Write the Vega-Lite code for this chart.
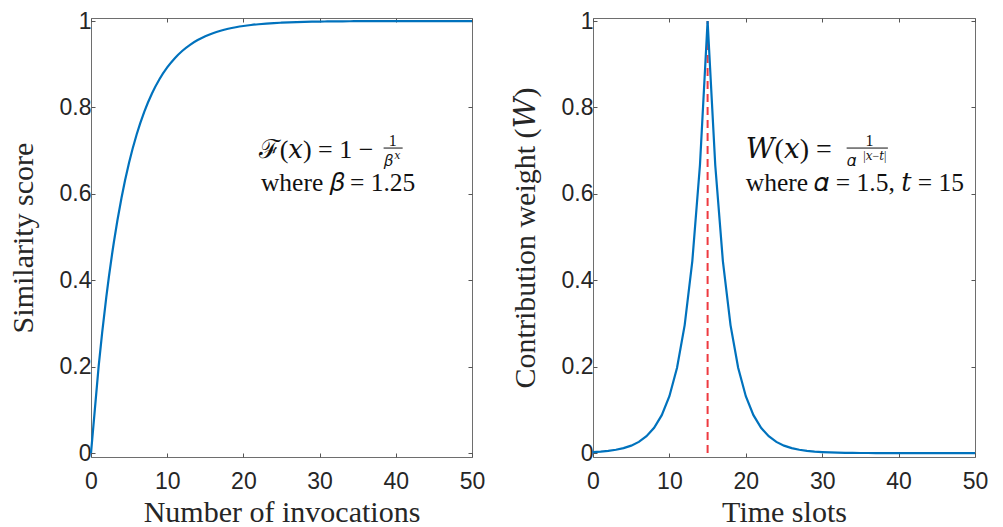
{
  "$schema": "https://vega.github.io/schema/vega-lite/v6.json",
  "background": "white",
  "padding": {"left": 7, "top": 9, "right": 5, "bottom": 0},
  "bounds": "flush",
  "spacing": 121,
  "datasets": {
    "sim": [
      {"x": 0, "y": 0}, {"x": 1, "y": 0.2}, {"x": 2, "y": 0.36}, {"x": 3, "y": 0.488}, {"x": 4, "y": 0.5904},
      {"x": 5, "y": 0.6723}, {"x": 6, "y": 0.7379}, {"x": 7, "y": 0.7903}, {"x": 8, "y": 0.8322}, {"x": 9, "y": 0.8658},
      {"x": 10, "y": 0.8926}, {"x": 11, "y": 0.9141}, {"x": 12, "y": 0.9313}, {"x": 13, "y": 0.945}, {"x": 14, "y": 0.956},
      {"x": 15, "y": 0.9648}, {"x": 16, "y": 0.9719}, {"x": 17, "y": 0.9775}, {"x": 18, "y": 0.982}, {"x": 19, "y": 0.9856},
      {"x": 20, "y": 0.9885}, {"x": 21, "y": 0.9908}, {"x": 22, "y": 0.9926}, {"x": 23, "y": 0.9941}, {"x": 24, "y": 0.9953},
      {"x": 25, "y": 0.9962}, {"x": 26, "y": 0.997}, {"x": 27, "y": 0.9976}, {"x": 28, "y": 0.9981}, {"x": 29, "y": 0.9985},
      {"x": 30, "y": 0.9988}, {"x": 31, "y": 0.999}, {"x": 32, "y": 0.9992}, {"x": 33, "y": 0.9994}, {"x": 34, "y": 0.9995},
      {"x": 35, "y": 0.9996}, {"x": 36, "y": 0.9997}, {"x": 37, "y": 0.9997}, {"x": 38, "y": 0.9998}, {"x": 39, "y": 0.9998},
      {"x": 40, "y": 0.9999}, {"x": 41, "y": 0.9999}, {"x": 42, "y": 0.9999}, {"x": 43, "y": 0.9999}, {"x": 44, "y": 0.9999},
      {"x": 45, "y": 1}, {"x": 46, "y": 1}, {"x": 47, "y": 1}, {"x": 48, "y": 1}, {"x": 49, "y": 1}, {"x": 50, "y": 1}
    ],
    "wt": [
      {"x": 0, "y": 0.0023}, {"x": 1, "y": 0.0034}, {"x": 2, "y": 0.0051}, {"x": 3, "y": 0.0077}, {"x": 4, "y": 0.0116},
      {"x": 5, "y": 0.0173}, {"x": 6, "y": 0.026}, {"x": 7, "y": 0.039}, {"x": 8, "y": 0.0585}, {"x": 9, "y": 0.0878},
      {"x": 10, "y": 0.1317}, {"x": 11, "y": 0.1975}, {"x": 12, "y": 0.2963}, {"x": 13, "y": 0.4444}, {"x": 14, "y": 0.6667},
      {"x": 15, "y": 1}, {"x": 16, "y": 0.6667}, {"x": 17, "y": 0.4444}, {"x": 18, "y": 0.2963}, {"x": 19, "y": 0.1975},
      {"x": 20, "y": 0.1317}, {"x": 21, "y": 0.0878}, {"x": 22, "y": 0.0585}, {"x": 23, "y": 0.039}, {"x": 24, "y": 0.026},
      {"x": 25, "y": 0.0173}, {"x": 26, "y": 0.0116}, {"x": 27, "y": 0.0077}, {"x": 28, "y": 0.0051}, {"x": 29, "y": 0.0034},
      {"x": 30, "y": 0.0023}, {"x": 31, "y": 0.0015}, {"x": 32, "y": 0.001}, {"x": 33, "y": 0.0007}, {"x": 34, "y": 0.0005},
      {"x": 35, "y": 0.0003}, {"x": 36, "y": 0.0002}, {"x": 37, "y": 0.0001}, {"x": 38, "y": 0.0001}, {"x": 39, "y": 0.0001},
      {"x": 40, "y": 0}, {"x": 41, "y": 0}, {"x": 42, "y": 0}, {"x": 43, "y": 0}, {"x": 44, "y": 0},
      {"x": 45, "y": 0}, {"x": 46, "y": 0}, {"x": 47, "y": 0}, {"x": 48, "y": 0}, {"x": 49, "y": 0}, {"x": 50, "y": 0}
    ]
  },
  "config": {
    "view": {"stroke": "#6e6e6e", "strokeWidth": 1},
    "axis": {
      "grid": false,
      "domain": false,
      "tickSize": -4,
      "tickColor": "#555555",
      "labelFont": "Liberation Sans",
      "labelFontSize": 23,
      "labelColor": "#262626",
      "titleFont": "Liberation Serif, DejaVu Serif",
      "titleFontSize": 30,
      "titleFontWeight": "normal",
      "titleColor": "#262626",
      "format": "~r"
    }
  },
  "hconcat": [
    {
      "width": 381,
      "height": 439,
      "resolve": {"axis": {"x": "independent", "y": "independent"}},
      "layer": [
        {
          "data": {"name": "sim"},
          "mark": {"type": "line", "color": "#0072BD", "strokeWidth": 2.2, "interpolate": "monotone"},
          "encoding": {
            "x": {"field": "x", "type": "quantitative", "scale": {"domain": [0, 50], "nice": false},
                  "axis": {"title": "Number of invocations", "values": [0, 10, 20, 30, 40, 50], "labelPadding": 17, "titlePadding": 4, "labelFlush": false}},
            "y": {"field": "y", "type": "quantitative", "scale": {"domain": [-0.009, 1.007], "nice": false, "zero": false},
                  "axis": {"title": "Similarity score", "values": [0, 0.2, 0.4, 0.6, 0.8, 1], "labelPadding": 4, "titlePadding": 21, "labelFlush": false}}
          }
        },
        {
          "data": {"name": "sim"},
          "mark": {"type": "point", "opacity": 0},
          "encoding": {
            "x": {"field": "x", "type": "quantitative", "axis": {"orient": "top", "labels": false, "title": null, "values": [0, 10, 20, 30, 40, 50]}},
            "y": {"field": "y", "type": "quantitative", "axis": {"orient": "right", "labels": false, "title": null, "values": [0, 0.2, 0.4, 0.6, 0.8, 1]}}
          }
        },
        {
          "data": {"values": [{"x": 22.0, "y": 0.702, "t": "ℱ(𝑥) = 1 −"}]},
          "mark": {"type": "text", "align": "left", "baseline": "middle", "font": "Liberation Serif, DejaVu Serif", "fontSize": 26, "color": "#111"},
          "encoding": {"x": {"field": "x", "type": "quantitative", "axis": null}, "y": {"field": "y", "type": "quantitative", "axis": null}, "text": {"field": "t"}}
        },
        {
          "data": {"values": [{"x": 39.6, "y": 0.723, "t": "1"}, {"x": 39.0, "y": 0.676, "t": "𝛽"}]},
          "mark": {"type": "text", "align": "center", "baseline": "middle", "font": "Liberation Serif, DejaVu Serif", "fontSize": 16, "color": "#111"},
          "encoding": {"x": {"field": "x", "type": "quantitative", "axis": null}, "y": {"field": "y", "type": "quantitative", "axis": null}, "text": {"field": "t"}}
        },
        {
          "data": {"values": [{"x": 40.2, "y": 0.688, "t": "𝑥"}]},
          "mark": {"type": "text", "align": "center", "baseline": "middle", "font": "Liberation Serif, DejaVu Serif", "fontSize": 11, "color": "#111"},
          "encoding": {"x": {"field": "x", "type": "quantitative", "axis": null}, "y": {"field": "y", "type": "quantitative", "axis": null}, "text": {"field": "t"}}
        },
        {
          "data": {"values": [{"x": 38.4, "x2": 40.9, "y": 0.706}]},
          "mark": {"type": "rule", "color": "#111", "strokeWidth": 1},
          "encoding": {"x": {"field": "x", "type": "quantitative", "axis": null}, "x2": {"field": "x2"}, "y": {"field": "y", "type": "quantitative", "axis": null}}
        },
        {
          "data": {"values": [{"x": 22.3, "y": 0.626, "t": "where 𝛽 = 1.25"}]},
          "mark": {"type": "text", "align": "left", "baseline": "middle", "font": "Liberation Serif, DejaVu Serif", "fontSize": 25.5, "color": "#111"},
          "encoding": {"x": {"field": "x", "type": "quantitative", "axis": null}, "y": {"field": "y", "type": "quantitative", "axis": null}, "text": {"field": "t"}}
        }
      ]
    },
    {
      "width": 382,
      "height": 439,
      "resolve": {"axis": {"x": "independent", "y": "independent"}},
      "layer": [
        {
          "data": {"values": [{"x": 15, "y": 0, "y2": 1}]},
          "mark": {"type": "rule", "color": "#ee3a40", "strokeWidth": 2, "strokeDash": [8, 5]},
          "encoding": {
            "x": {"field": "x", "type": "quantitative", "scale": {"domain": [0, 50], "nice": false},
                  "axis": {"title": "Time slots", "values": [0, 10, 20, 30, 40, 50], "labelPadding": 17, "titlePadding": 4, "labelFlush": false}},
            "y": {"field": "y", "type": "quantitative", "scale": {"domain": [-0.009, 1.007], "nice": false, "zero": false},
                  "axis": {"title": "Contribution weight (𝑊)", "values": [0, 0.2, 0.4, 0.6, 0.8, 1], "labelPadding": 4, "titlePadding": 21, "labelFlush": false}},
            "y2": {"field": "y2"}
          }
        },
        {
          "data": {"name": "wt"},
          "mark": {"type": "line", "color": "#0072BD", "strokeWidth": 2.2},
          "encoding": {
            "x": {"field": "x", "type": "quantitative", "axis": {"orient": "top", "labels": false, "title": null, "values": [0, 10, 20, 30, 40, 50]}},
            "y": {"field": "y", "type": "quantitative", "axis": {"orient": "right", "labels": false, "title": null, "values": [0, 0.2, 0.4, 0.6, 0.8, 1]}}
          }
        },
        {
          "data": {"values": [{"x": 20.0, "y": 0.702, "t": "𝑊(𝑥) ="}]},
          "mark": {"type": "text", "align": "left", "baseline": "middle", "font": "Liberation Serif, DejaVu Serif", "fontSize": 28, "color": "#111"},
          "encoding": {"x": {"field": "x", "type": "quantitative", "axis": null}, "y": {"field": "y", "type": "quantitative", "axis": null}, "text": {"field": "t"}}
        },
        {
          "data": {"values": [{"x": 36.2, "y": 0.723, "t": "1"}, {"x": 33.8, "y": 0.676, "t": "𝛼"}]},
          "mark": {"type": "text", "align": "center", "baseline": "middle", "font": "Liberation Serif, DejaVu Serif", "fontSize": 16, "color": "#111"},
          "encoding": {"x": {"field": "x", "type": "quantitative", "axis": null}, "y": {"field": "y", "type": "quantitative", "axis": null}, "text": {"field": "t"}}
        },
        {
          "data": {"values": [{"x": 36.9, "y": 0.688, "t": "|𝑥−𝑡|"}]},
          "mark": {"type": "text", "align": "center", "baseline": "middle", "font": "Liberation Serif, DejaVu Serif", "fontSize": 12, "color": "#111"},
          "encoding": {"x": {"field": "x", "type": "quantitative", "axis": null}, "y": {"field": "y", "type": "quantitative", "axis": null}, "text": {"field": "t"}}
        },
        {
          "data": {"values": [{"x": 33.2, "x2": 38.6, "y": 0.706}]},
          "mark": {"type": "rule", "color": "#111", "strokeWidth": 1},
          "encoding": {"x": {"field": "x", "type": "quantitative", "axis": null}, "x2": {"field": "x2"}, "y": {"field": "y", "type": "quantitative", "axis": null}}
        },
        {
          "data": {"values": [{"x": 20.0, "y": 0.626, "t": "where 𝛼 = 1.5, 𝑡 = 15"}]},
          "mark": {"type": "text", "align": "left", "baseline": "middle", "font": "Liberation Serif, DejaVu Serif", "fontSize": 25.5, "color": "#111"},
          "encoding": {"x": {"field": "x", "type": "quantitative", "axis": null}, "y": {"field": "y", "type": "quantitative", "axis": null}, "text": {"field": "t"}}
        }
      ]
    }
  ]
}
